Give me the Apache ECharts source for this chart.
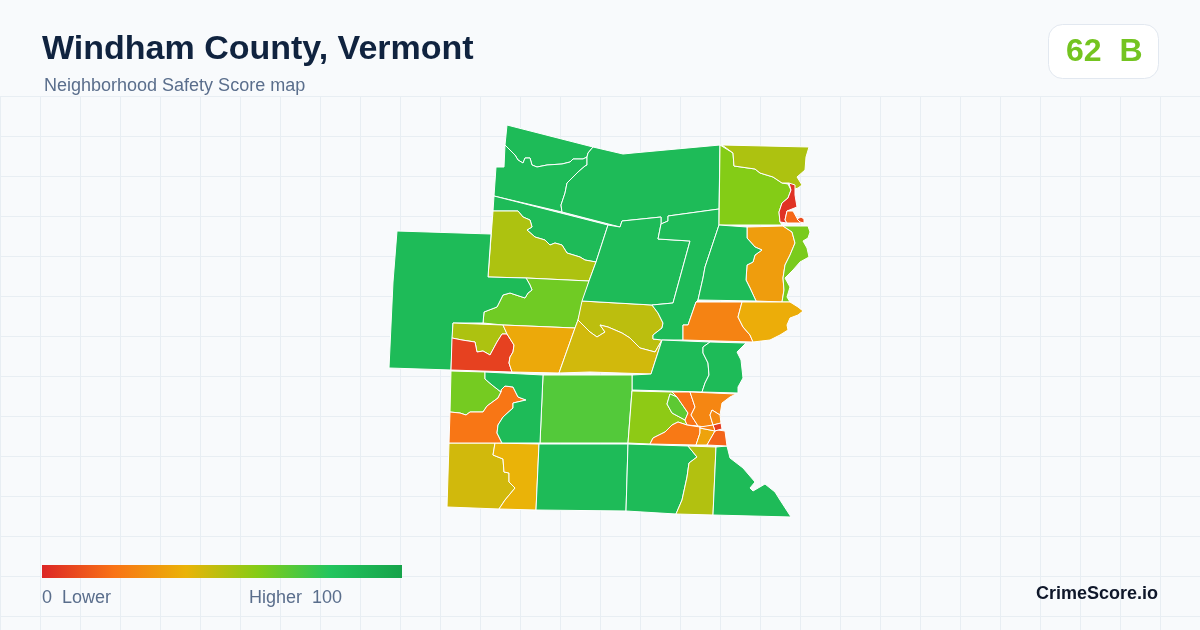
<!DOCTYPE html>
<html>
<head>
<meta charset="utf-8">
<title>Windham County, Vermont</title>
<script src="https://cdn.jsdelivr.net/npm/echarts@6/dist/echarts.min.js"></script>
<style>
  html, body { margin: 0; padding: 0; background: #f8fafc; }
  #chart { width: 1200px; height: 630px; }
</style>
</head>
<body>
<div id="chart"></div>
<script>
// scores, one per tract
const tractNames = [
  'T01','T02','T03','T04','T05','T06','T07','T08','T09','T10',
  'T11','T12','T13','T14','T15','T16','T17','T18','T19','T20',
  'T21','T22','T23','T24','T25','T26','T27','T28','T29','T30',
  'T31','T32','T33','T34','T35','T36','T37','T38','T39','T40',
  'T41','T42','T43','T44','T45','T46'
];
const tractScores = [
  86, 86, 86, 86, 52, 64, 86, 52, 7, 37,
  49, 45, 86, 86, 60, 52, 3, 33, 62, 86,
  25, 38, 86, 86, 70, 58, 45, 40, 63, 21,
  86, 86, 86, 51, 86, 17, 68, 20, 26, 27,
  22, 35, 16, 10, 6, 24
];
const scaleColors = ['#dc2626', '#f97316', '#eab308', '#84cc16', '#22c55e', '#16a34a'];

// tract outlines, there is no boundary file to load here
const tractOutlines = [
  [[507,125],[593,147],[588,153],[587,157],[583,159],[573,159],[570,162],[562,164],[547,165],[537,167],[532,165],[530,158],[525,158],[523,163],[518,160],[515,155],[510,150],[505,145]],
  [[505,145],[510,150],[515,155],[518,160],[523,163],[525,158],[530,158],[532,165],[537,167],[547,165],[562,164],[570,162],[573,159],[583,159],[587,157],[587,165],[585,166],[578,172],[572,178],[567,183],[565,193],[561,205],[562,212],[494,196],[496,167],[504,167]],
  [[593,147],[623,154],[633,153],[720,145],[719,209],[668,216],[668,221],[661,224],[661,217],[622,221],[620,227],[562,212],[561,205],[565,193],[567,183],[572,178],[578,172],[585,166],[587,165],[587,157],[588,153]],
  [[494,196],[608,225],[596,262],[585,260],[580,257],[567,253],[562,245],[555,243],[550,245],[545,240],[535,237],[527,230],[532,227],[530,220],[523,217],[518,211],[493,211]],
  [[493,211],[518,211],[523,217],[530,220],[532,227],[527,230],[535,237],[545,240],[550,245],[555,243],[562,245],[567,253],[580,257],[585,260],[596,262],[589,281],[526,278],[488,277]],
  [[526,278],[589,281],[578,320],[575,328],[503,325],[483,323],[484,312],[497,307],[503,295],[510,293],[525,298],[528,293],[532,290],[530,285]],
  [[397,231],[460,233],[491,234],[488,277],[526,278],[530,285],[532,290],[528,293],[525,298],[510,293],[503,295],[497,307],[484,312],[483,323],[453,323],[451,370],[389,368],[393,282]],
  [[453,323],[503,325],[507,334],[502,334],[497,342],[490,355],[483,351],[477,352],[475,342],[462,340],[452,338]],
  [[452,338],[462,340],[475,342],[477,352],[483,351],[490,355],[497,342],[502,334],[507,334],[514,345],[513,352],[510,357],[509,363],[512,372],[451,370]],
  [[503,325],[575,328],[559,373],[512,372],[509,363],[510,357],[513,352],[514,345],[507,334]],
  [[582,301],[652,305],[658,313],[663,323],[662,328],[653,335],[653,339],[662,340],[655,352],[640,348],[630,338],[622,333],[608,327],[600,325],[605,332],[597,337],[590,332],[578,320]],
  [[578,320],[590,332],[597,337],[605,332],[600,325],[608,327],[622,333],[630,338],[640,348],[655,352],[662,340],[651,374],[590,372],[559,373],[575,328]],
  [[608,225],[620,227],[622,221],[661,217],[661,224],[658,239],[690,241],[673,303],[652,305],[582,301],[589,281],[596,262]],
  [[661,224],[668,221],[668,216],[719,209],[719,225],[705,267],[703,278],[698,300],[696,302],[688,325],[683,325],[683,340],[662,340],[653,339],[653,335],[662,328],[663,323],[658,313],[652,305],[673,303],[690,241],[658,239]],
  [[720,145],[733,153],[734,166],[755,169],[760,173],[773,177],[782,183],[788,184],[791,190],[788,198],[782,203],[779,212],[780,222],[782,225],[719,225]],
  [[722,145],[809,147],[806,157],[805,170],[797,177],[802,185],[798,188],[795,189],[789,183],[782,183],[773,177],[760,173],[755,169],[734,166],[733,153]],
  [[789,183],[795,185],[795,195],[797,207],[787,211],[785,220],[787,223],[780,222],[779,212],[782,203],[788,198],[791,190]],
  [[747,227],[783,226],[792,232],[795,243],[790,255],[785,265],[783,278],[784,290],[782,302],[756,301],[750,288],[746,280],[747,265],[753,262],[755,255],[762,250],[755,247],[747,238]],
  [[783,226],[808,226],[810,232],[808,238],[803,241],[807,248],[809,257],[800,262],[793,270],[785,278],[790,287],[787,297],[790,302],[782,302],[784,290],[783,278],[785,265],[790,255],[795,243],[792,232]],
  [[719,225],[747,227],[747,238],[755,247],[762,250],[755,255],[753,262],[747,265],[746,280],[750,288],[756,301],[698,300],[703,278],[705,267]],
  [[696,302],[742,302],[738,317],[743,327],[750,335],[753,342],[683,340],[683,325],[688,325]],
  [[742,302],[790,302],[798,307],[803,311],[798,315],[790,318],[787,325],[788,330],[780,335],[770,340],[753,342],[750,335],[743,327],[738,317]],
  [[662,340],[710,342],[703,347],[703,353],[708,363],[709,375],[705,383],[702,392],[632,390],[632,375],[651,374]],
  [[710,342],[746,343],[737,352],[741,360],[743,378],[738,387],[738,393],[702,392],[705,383],[709,375],[708,363],[703,353],[703,347]],
  [[543,375],[632,375],[632,390],[628,443],[540,443]],
  [[632,391],[672,392],[677,397],[670,394],[667,404],[672,413],[685,420],[687,425],[678,422],[672,425],[665,432],[653,438],[650,444],[628,443]],
  [[449,443],[495,443],[493,455],[503,459],[504,472],[509,473],[509,482],[515,488],[505,500],[499,509],[447,507]],
  [[495,443],[539,444],[536,510],[499,509],[505,500],[515,488],[509,482],[509,473],[504,472],[503,459],[493,455]],
  [[451,371],[485,372],[485,379],[492,385],[501,392],[498,398],[487,406],[483,412],[470,412],[466,415],[460,413],[450,412]],
  [[450,412],[460,413],[466,415],[470,412],[483,412],[487,406],[498,398],[501,392],[501,390],[505,386],[513,387],[518,397],[526,400],[513,403],[513,408],[503,417],[498,425],[497,433],[502,443],[449,443]],
  [[485,372],[543,375],[540,443],[502,443],[497,433],[498,425],[503,417],[513,408],[513,403],[526,400],[518,397],[513,387],[505,386],[501,390],[501,392],[492,385],[485,379]],
  [[539,444],[628,444],[626,511],[536,510]],
  [[628,444],[688,446],[697,457],[689,463],[687,477],[682,500],[676,514],[626,511]],
  [[688,446],[716,447],[713,515],[676,514],[682,500],[687,477],[689,463],[697,457]],
  [[716,447],[727,446],[730,458],[743,468],[755,482],[750,488],[753,491],[765,484],[775,492],[780,500],[791,517],[713,515]],
  [[787,211],[793,211],[798,220],[803,223],[787,223],[785,220]],
  [[670,394],[677,397],[688,413],[685,420],[672,413],[667,404]],
  [[672,392],[690,392],[695,407],[691,415],[698,426],[687,425],[685,420],[688,413],[677,397]],
  [[690,392],[736,394],[730,397],[722,403],[720,415],[712,410],[710,415],[713,425],[705,427],[698,426],[691,415],[695,407]],
  [[712,410],[720,415],[721,423],[713,425],[710,415]],
  [[678,422],[687,425],[700,427],[700,433],[696,445],[650,444],[653,438],[665,432],[672,425]],
  [[700,428],[715,431],[707,445],[696,445],[700,433]],
  [[715,431],[718,430],[725,431],[727,446],[707,445]],
  [[797,219],[801,217],[804,219],[804,223],[800,222]],
  [[713,425],[721,423],[722,429],[718,430],[715,431]],
  [[700,427],[713,425],[715,431],[700,428]]
];

const titleText = 'Windham County, Vermont';
const subtitleText = 'Neighborhood Safety Score map';
const badgeText = '62  B';
const brandText = 'CrimeScore.io';
const legendLow = '0  Lower';
const legendHigh = 'Higher  100';

const geoJson = {
  type: 'FeatureCollection',
  features: tractNames.map(function (name, i) {
    return {
      type: 'Feature',
      properties: { name: name },
      geometry: { type: 'Polygon', coordinates: [tractOutlines[i]] }
    };
  })
};
echarts.registerMap('windham', geoJson);

var myChart = echarts.init(document.getElementById('chart'), null, { renderer: 'canvas' });

var fontName = '"Liberation Sans", Arial, sans-serif';

// legend bar uses the same colours as the scale, with square corners
var legendGradient = new echarts.graphic.LinearGradient(0, 0, 1, 0, scaleColors.map(function (c, i) {
  return { offset: i / (scaleColors.length - 1), color: c };
}));

var option = {
  backgroundColor: '#f8fafc',
  animation: false,
  // faint background grid
  grid: { left: 0, right: 0, top: 96, bottom: 0 },
  xAxis: {
    type: 'value', min: 0, max: 1200, interval: 40,
    axisLine: { show: false }, axisTick: { show: false }, axisLabel: { show: false },
    splitLine: { lineStyle: { color: '#e8eef3', width: 1 } }
  },
  yAxis: {
    type: 'value', inverse: true, min: 0, max: 534, interval: 40,
    axisLine: { show: false }, axisTick: { show: false }, axisLabel: { show: false },
    splitLine: { lineStyle: { color: '#e8eef3', width: 1 } }
  },
  visualMap: {
    type: 'continuous',
    show: false,
    min: 0,
    max: 100,
    seriesIndex: 0,
    inRange: { color: scaleColors }
  },
  series: [
    {
      type: 'map',
      map: 'windham',
      projection: {
        project: function (p) { return p; },
        unproject: function (p) { return p; }
      },
      boundingCoords: [[0, 0], [1200, 630]],
      left: 0,
      top: 0,
      width: 1200,
      height: 630,
      roam: false,
      silent: true,
      label: { show: false },
      emphasis: { disabled: true },
      itemStyle: { borderColor: '#ffffff', borderWidth: 1 },
      data: tractNames.map(function (name, i) {
        return { name: name, value: tractScores[i] };
      })
    }
  ],
  graphic: [
    {
      type: 'text', left: 42, top: 33, z: 100,
      style: { text: titleText, fontFamily: fontName, fontSize: 34, fontWeight: 'bold', fill: '#10233f' }
    },
    {
      type: 'text', left: 44, top: 77, z: 100,
      style: { text: subtitleText, fontFamily: fontName, fontSize: 18, fill: '#5a6e8c' }
    },
    {
      type: 'rect', z: 100,
      shape: { x: 1048.5, y: 24.5, width: 110, height: 54, r: 14 },
      style: { fill: '#ffffff', stroke: '#e2e8f0', lineWidth: 1 }
    },
    {
      type: 'text', left: 1066, top: 36, z: 101,
      style: { text: badgeText, fontFamily: fontName, fontSize: 32, fontWeight: 'bold', fill: '#74c420' }
    },
    {
      type: 'rect', z: 100,
      shape: { x: 42, y: 565, width: 360, height: 13 },
      style: { fill: legendGradient }
    },
    {
      type: 'text', left: 42, top: 589, z: 100,
      style: { text: legendLow, fontFamily: fontName, fontSize: 18, fill: '#5a6e8c' }
    },
    {
      type: 'text', left: 249, top: 589, z: 100,
      style: { text: legendHigh, fontFamily: fontName, fontSize: 18, fill: '#5a6e8c' }
    },
    {
      type: 'text', right: 42, top: 585, z: 100,
      style: { text: brandText, fontFamily: fontName, fontSize: 18, fontWeight: 'bold', fill: '#0f172a' }
    }
  ]
};

myChart.setOption(option);

window.addEventListener('resize', function () {
  myChart.resize();
});
</script>
</body>
</html>
